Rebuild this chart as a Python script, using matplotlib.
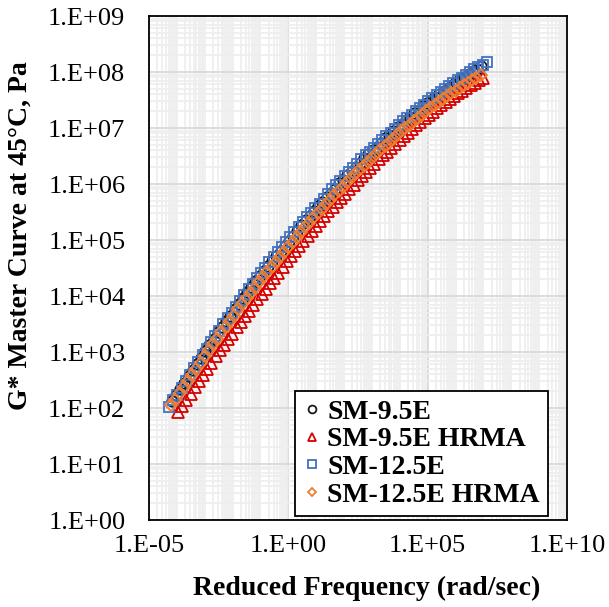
import numpy as np
import matplotlib
matplotlib.use("Agg")
import matplotlib.pyplot as plt
from matplotlib.ticker import FixedLocator, LogLocator, FuncFormatter, NullFormatter

plt.rcParams['font.family'] = ['Liberation Serif', 'DejaVu Serif']

# log10 of reduced frequency (rad/sec) and log10 of |G*| (Pa)
sm95_logf = [-4.18, -4.03, -3.88, -3.73, -3.58, -3.43, -3.28, -3.13, -2.98, -2.83,
             -2.68, -2.53, -2.38, -2.23, -2.08, -1.93, -1.78, -1.63, -1.48, -1.33,
             -1.18, -1.03, -0.88, -0.73, -0.58, -0.43, -0.28, -0.13, 0.02, 0.17,
             0.32, 0.47, 0.62, 0.77, 0.92, 1.07, 1.22, 1.37, 1.52, 1.67,
             1.82, 1.97, 2.12, 2.27, 2.42, 2.57, 2.72, 2.87, 3.02, 3.17,
             3.32, 3.47, 3.62, 3.77, 3.92, 4.07, 4.22, 4.37, 4.52, 4.67,
             4.82, 4.97, 5.12, 5.27, 5.42, 5.57, 5.72, 5.87, 6.02, 6.17,
             6.32, 6.47, 6.62, 6.77, 6.92]
sm95_logg = [2.13, 2.23, 2.34, 2.45, 2.57, 2.68, 2.79, 2.90, 3.01, 3.12,
             3.24, 3.35, 3.45, 3.55, 3.65, 3.76, 3.86, 3.97, 4.07, 4.17,
             4.26, 4.36, 4.45, 4.54, 4.63, 4.72, 4.81, 4.90, 4.99, 5.08,
             5.17, 5.26, 5.35, 5.43, 5.51, 5.60, 5.68, 5.76, 5.84, 5.92,
             6.01, 6.08, 6.16, 6.24, 6.31, 6.38, 6.46, 6.53, 6.60, 6.67,
             6.74, 6.82, 6.88, 6.95, 7.02, 7.08, 7.14, 7.20, 7.26, 7.32,
             7.39, 7.45, 7.50, 7.56, 7.61, 7.66, 7.71, 7.77, 7.82, 7.88,
             7.92, 7.97, 8.01, 8.06, 8.10]

sm95h_logf = [-3.96, -3.81, -3.66, -3.51, -3.36, -3.21, -3.06, -2.91, -2.76, -2.61,
              -2.46, -2.31, -2.16, -2.01, -1.86, -1.71, -1.56, -1.41, -1.26, -1.11,
              -0.96, -0.81, -0.66, -0.51, -0.36, -0.21, -0.06, 0.09, 0.24, 0.39,
              0.54, 0.69, 0.84, 0.99, 1.14, 1.29, 1.44, 1.59, 1.74, 1.89,
              2.04, 2.19, 2.34, 2.49, 2.64, 2.79, 2.94, 3.09, 3.24, 3.39,
              3.54, 3.69, 3.84, 3.99, 4.14, 4.29, 4.44, 4.59, 4.74, 4.89,
              5.04, 5.19, 5.34, 5.49, 5.64, 5.79, 5.94, 6.09, 6.24, 6.39,
              6.54, 6.69, 6.84, 6.99]
sm95h_logg = [1.92, 2.03, 2.14, 2.25, 2.37, 2.48, 2.59, 2.70, 2.81, 2.92,
              3.03, 3.13, 3.23, 3.33, 3.44, 3.54, 3.64, 3.74, 3.84, 3.94,
              4.03, 4.13, 4.23, 4.32, 4.42, 4.52, 4.62, 4.71, 4.81, 4.90,
              4.99, 5.08, 5.17, 5.25, 5.34, 5.43, 5.51, 5.59, 5.68, 5.75,
              5.83, 5.91, 5.99, 6.07, 6.14, 6.22, 6.29, 6.36, 6.44, 6.51,
              6.58, 6.65, 6.72, 6.79, 6.86, 6.92, 6.99, 7.05, 7.11, 7.18,
              7.23, 7.29, 7.35, 7.41, 7.46, 7.52, 7.57, 7.62, 7.67, 7.72,
              7.77, 7.81, 7.85, 7.89]

sm125_logf = [-4.28, -4.13, -3.98, -3.83, -3.68, -3.53, -3.38, -3.23, -3.08, -2.93,
              -2.78, -2.63, -2.48, -2.33, -2.18, -2.03, -1.88, -1.73, -1.58, -1.43,
              -1.28, -1.13, -0.98, -0.83, -0.68, -0.53, -0.38, -0.23, -0.08, 0.07,
              0.22, 0.37, 0.52, 0.67, 0.82, 0.97, 1.12, 1.27, 1.42, 1.57,
              1.72, 1.87, 2.02, 2.17, 2.32, 2.47, 2.62, 2.77, 2.92, 3.07,
              3.22, 3.37, 3.52, 3.67, 3.82, 3.97, 4.12, 4.27, 4.42, 4.57,
              4.72, 4.87, 5.02, 5.17, 5.32, 5.47, 5.62, 5.77, 5.92, 6.07,
              6.22, 6.37, 6.52, 6.67, 6.82, 6.97, 7.12]
sm125_logg = [2.02, 2.14, 2.24, 2.36, 2.48, 2.59, 2.71, 2.82, 2.94, 3.05,
              3.17, 3.28, 3.38, 3.50, 3.60, 3.70, 3.81, 3.91, 4.02, 4.12,
              4.22, 4.32, 4.41, 4.50, 4.60, 4.69, 4.78, 4.87, 4.96, 5.05,
              5.15, 5.23, 5.32, 5.41, 5.49, 5.57, 5.65, 5.74, 5.82, 5.91,
              5.99, 6.06, 6.14, 6.22, 6.29, 6.36, 6.44, 6.51, 6.58, 6.65,
              6.72, 6.79, 6.86, 6.92, 6.99, 7.06, 7.12, 7.18, 7.24, 7.30,
              7.36, 7.42, 7.48, 7.54, 7.59, 7.65, 7.70, 7.75, 7.80, 7.85,
              7.90, 7.95, 8.00, 8.05, 8.09, 8.13, 8.18]

sm125h_logf = [-4.20, -4.05, -3.90, -3.75, -3.60, -3.45, -3.30, -3.15, -3.00, -2.85,
               -2.70, -2.55, -2.40, -2.25, -2.10, -1.95, -1.80, -1.65, -1.50, -1.35,
               -1.20, -1.05, -0.90, -0.75, -0.60, -0.45, -0.30, -0.15, 0.00, 0.15,
               0.30, 0.45, 0.60, 0.75, 0.90, 1.05, 1.20, 1.35, 1.50, 1.65,
               1.80, 1.95, 2.10, 2.25, 2.40, 2.55, 2.70, 2.85, 3.00, 3.15,
               3.30, 3.45, 3.60, 3.75, 3.90, 4.05, 4.20, 4.35, 4.50, 4.65,
               4.80, 4.95, 5.10, 5.25, 5.40, 5.55, 5.70, 5.85, 6.00, 6.15,
               6.30, 6.45, 6.60, 6.75, 6.90]
sm125h_logg = [2.05, 2.15, 2.26, 2.37, 2.48, 2.59, 2.70, 2.81, 2.92, 3.03,
               3.14, 3.24, 3.35, 3.45, 3.55, 3.65, 3.76, 3.86, 3.96, 4.06,
               4.15, 4.25, 4.34, 4.43, 4.52, 4.61, 4.70, 4.79, 4.88, 4.97,
               5.05, 5.14, 5.23, 5.31, 5.39, 5.48, 5.56, 5.64, 5.72, 5.80,
               5.88, 5.95, 6.03, 6.11, 6.18, 6.25, 6.33, 6.40, 6.47, 6.54,
               6.61, 6.68, 6.74, 6.81, 6.88, 6.94, 7.00, 7.06, 7.12, 7.18,
               7.24, 7.30, 7.36, 7.41, 7.46, 7.52, 7.57, 7.62, 7.67, 7.72,
               7.77, 7.81, 7.86, 7.90, 7.95]

labels = ['SM-9.5E', 'SM-9.5E HRMA', 'SM-12.5E', 'SM-12.5E HRMA']
x_ticks = [1e-5, 1e0, 1e5, 1e10]

series = [
    (sm95_logf, sm95_logg, 'o', '#1a1a1a', 7.5),
    (sm95h_logf, sm95h_logg, '^', '#d60000', 8.0),
    (sm125_logf, sm125_logg, 's', '#4472C4', 7.3),
    (sm125h_logf, sm125h_logg, 'D', '#ED7D31', 6.0),
]

fig = plt.figure(figsize=(6.09, 6.07), dpi=100, facecolor='white')
ax = fig.add_axes([0.2447, 0.1433, 0.6864, 0.8303])

for (lf, lg, mk, col, ms), lab in zip(series, labels):
    ax.plot(np.power(10.0, lf), np.power(10.0, lg), linestyle='none',
            marker=mk, markersize=ms, markerfacecolor='none',
            markeredgecolor=col, markeredgewidth=1.3, label=lab)

ax.set_xscale('log')
ax.set_yscale('log')
ax.set_xlim(1e-5, 1e10)
ax.set_ylim(1e0, 1e9)

# Excel-like grid: x major every 5 decades, minor at every decade subdivision
ax.xaxis.set_major_locator(FixedLocator(x_ticks))
ax.xaxis.set_minor_locator(LogLocator(base=10, subs=np.arange(1, 10), numticks=100))
ax.yaxis.set_major_locator(LogLocator(base=10, numticks=20))
ax.yaxis.set_minor_locator(LogLocator(base=10, subs=np.arange(2, 10), numticks=100))

fmt = FuncFormatter(lambda v, p: f"1.E{int(round(np.log10(v))):+03d}")
ax.xaxis.set_major_formatter(fmt)
ax.yaxis.set_major_formatter(fmt)
ax.xaxis.set_minor_formatter(NullFormatter())
ax.yaxis.set_minor_formatter(NullFormatter())

ax.grid(which='minor', color='#eeeeee', linewidth=1.2)
ax.grid(which='major', color='#d9d9d9', linewidth=1.3)
ax.set_axisbelow(True)

ax.tick_params(which='both', length=0)
ax.tick_params(axis='y', labelsize=19, pad=17)
ax.tick_params(axis='x', labelsize=19, pad=11)

for sp in ax.spines.values():
    sp.set_color('black')
    sp.set_linewidth(1.3)

ax.set_xlabel('Reduced Frequency (rad/sec)', fontsize=20, fontweight='bold')
ax.xaxis.set_label_coords(0.52, -0.11)
ax.set_ylabel('G* Master Curve at 45°C, Pa', fontsize=20, fontweight='bold',
              va='center')
ax.yaxis.set_label_coords(-0.308, 0.5635)

leg = ax.legend(loc='lower right', bbox_to_anchor=(0.955, 0.008),
                borderaxespad=0, frameon=True, fancybox=False,
                prop={'weight': 'bold', 'size': 20},
                labelspacing=0.08, handlelength=0.6, handletextpad=0.25,
                borderpad=0.3, markerscale=0.75)
leg.get_frame().set_edgecolor('black')
leg.get_frame().set_linewidth(1.3)
leg.get_frame().set_alpha(1)

fig.savefig('out.png', dpi=100, facecolor='white')
